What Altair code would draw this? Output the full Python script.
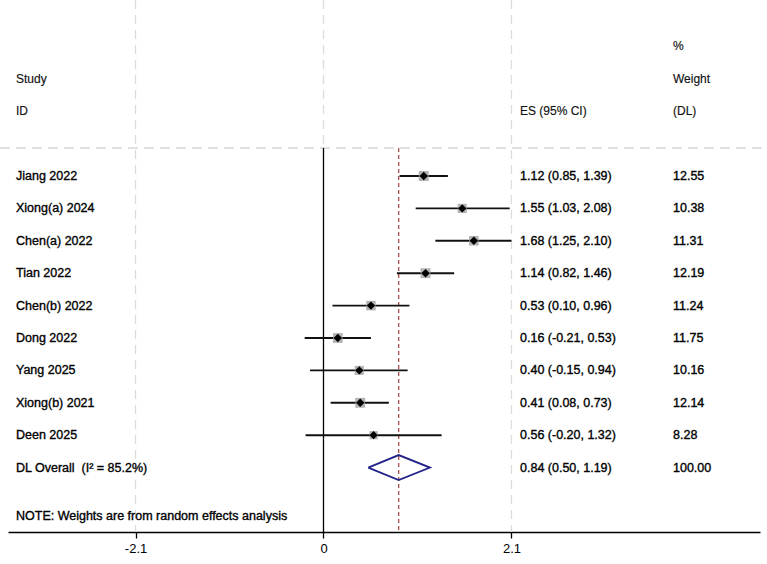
import altair as alt
import pandas as pd

# Study-level effect sizes (95% CI) and random-effects weights
studies = ["Jiang 2022", "Xiong(a) 2024", "Chen(a) 2022", "Tian 2022", "Chen(b) 2022",
           "Dong 2022", "Yang 2025", "Xiong(b) 2021", "Deen 2025"]
es = [1.12, 1.55, 1.68, 1.14, 0.53, 0.16, 0.40, 0.41, 0.56]
lo = [0.85, 1.03, 1.25, 0.82, 0.10, -0.21, -0.15, 0.08, -0.20]
hi = [1.39, 2.08, 2.10, 1.46, 0.96, 0.53, 0.94, 0.73, 1.32]
weight = [12.55, 10.38, 11.31, 12.19, 11.24, 11.75, 10.16, 12.14, 8.28]

# Pooled DerSimonian-Laird estimate
overall_label = "DL Overall\u00a0\u00a0(I\u00b2 = 85.2%)"
overall_es, overall_lo, overall_hi, overall_w = 0.84, 0.50, 1.19, 100.00

ticks = [-2.1, 0, 2.1]
note = "NOTE: Weights are from random effects analysis"

FONT = "Liberation Sans"
FS = 12.5
INK = "#000000"
W, H = 752, 532
x_dom = [-3.525, 4.877]
y_dom = [-5.432, 10.988]

rows = pd.DataFrame({
    "study": studies, "es": es, "lo": lo, "hi": hi, "weight": weight,
    "row": list(range(len(studies))),
})
rows["es_txt"] = [f"{e:.2f} ({l:.2f}, {h:.2f})" for e, l, h in zip(es, lo, hi)]
rows["w_txt"] = [f"{w:.2f}" for w in weight]

ov_row = len(studies)
labels = pd.DataFrame({
    "study": studies + [overall_label],
    "es_txt": list(rows["es_txt"]) + [f"{overall_es:.2f} ({overall_lo:.2f}, {overall_hi:.2f})"],
    "w_txt": list(rows["w_txt"]) + [f"{overall_w:.2f}"],
    "row": list(range(len(studies) + 1)),
})

header = pd.DataFrame({
    "text": ["Study", "ID", "ES (95% CI)", "%", "Weight", "(DL)"],
    "row": [-3, -2, -2, -4, -3, -2],
    "col": ["a", "a", "b", "c", "c", "c"],
})

half = 0.386
diamond = pd.DataFrame({
    "x": [overall_lo, overall_es, overall_hi, overall_es, overall_lo],
    "row": [ov_row, ov_row - half, ov_row, ov_row + half, ov_row],
    "o": [0, 1, 2, 3, 4],
})

xs = alt.Scale(domain=x_dom, nice=False, zero=False)
ys = alt.Scale(domain=y_dom, reverse=True, nice=False, zero=False)

base = alt.Chart(rows)

# reference lines
grey_full = alt.Chart(pd.DataFrame({"v": [ticks[0], ticks[2]]})).mark_rule(
    color="#dcdcdc", strokeWidth=1.3, strokeDash=[9, 6]
).encode(x=alt.X("v:Q", scale=xs), y=alt.value(0), y2=alt.value(H))

grey_top = alt.Chart(pd.DataFrame({"v": [0]})).mark_rule(
    color="#dcdcdc", strokeWidth=1.3, strokeDash=[9, 6]
).encode(x=alt.X("v:Q", scale=xs), y=alt.value(0), y2=alt.value(148))

hline = alt.Chart(pd.DataFrame({"v": [0]})).mark_rule(
    color="#d6d6d6", strokeWidth=1.6, strokeDash=[10, 6]
).encode(x=alt.value(-8), x2=alt.value(W + 7), y=alt.value(148))

null_line = alt.Chart(pd.DataFrame({"v": [0]})).mark_rule(
    color="#000000", strokeWidth=1.3
).encode(x=alt.X("v:Q", scale=xs), y=alt.value(148), y2=alt.value(H))

pooled_line = alt.Chart(pd.DataFrame({"v": [overall_es]})).mark_rule(
    color="#a8504f", strokeWidth=1.3, strokeDash=[4, 3]
).encode(x=alt.X("v:Q", scale=xs), y=alt.value(148), y2=alt.value(H))

ci = base.mark_rule(color="#111111", strokeWidth=1.9).encode(
    x=alt.X("lo:Q", scale=xs,
            axis=alt.Axis(values=ticks, title=None, grid=False,
                          labelExpr="datum.value == 0 ? '0' : (datum.value < 0 ? '-' + format(-datum.value, '.1f') : format(datum.value, '.1f'))")),
    x2="hi:Q",
    y=alt.Y("row:Q", scale=ys, axis=None),
)

boxes = base.mark_square(color="#a0a0a0", opacity=0.8).encode(
    x=alt.X("es:Q", scale=xs),
    y=alt.Y("row:Q", scale=ys),
    size=alt.Size("weight:Q", scale=alt.Scale(domain=[0, 13], range=[0, 105]), legend=None),
)

points = base.mark_point(shape="diamond", filled=True, color="#000000", size=70, opacity=1).encode(
    x=alt.X("es:Q", scale=xs),
    y=alt.Y("row:Q", scale=ys),
)

pooled = alt.Chart(diamond).mark_line(color="#22228a", strokeWidth=1.8).encode(
    x=alt.X("x:Q", scale=xs),
    y=alt.Y("row:Q", scale=ys),
    order="o:Q",
)

# body text drawn slightly heavier than the header text
txt = dict(font=FONT, fontSize=FS, color=INK, stroke=INK, strokeWidth=0.35,
           align="left", baseline="middle")
hdr = dict(font=FONT, fontSize=12, color="#111111", stroke="#111111", strokeWidth=0.15,
           align="left", baseline="middle")

study_txt = alt.Chart(labels).mark_text(**txt).encode(
    x=alt.value(8), y=alt.Y("row:Q", scale=ys), text="study:N")
es_txt = alt.Chart(labels).mark_text(**txt).encode(
    x=alt.value(512), y=alt.Y("row:Q", scale=ys), text="es_txt:N")
w_txt = alt.Chart(labels).mark_text(**txt).encode(
    x=alt.value(665), y=alt.Y("row:Q", scale=ys), text="w_txt:N")

hdr_a = alt.Chart(header[header.col == "a"]).mark_text(**hdr).encode(
    x=alt.value(8), y=alt.Y("row:Q", scale=ys), text="text:N")
hdr_b = alt.Chart(header[header.col == "b"]).mark_text(**hdr).encode(
    x=alt.value(512), y=alt.Y("row:Q", scale=ys), text="text:N")
hdr_c = alt.Chart(header[header.col == "c"]).mark_text(**hdr).encode(
    x=alt.value(665), y=alt.Y("row:Q", scale=ys), text="text:N")

note_txt = alt.Chart(pd.DataFrame({"t": [note], "row": [ov_row + 1.5]})).mark_text(**txt).encode(
    x=alt.value(8), y=alt.Y("row:Q", scale=ys), text="t:N")

chart = alt.layer(
    grey_full, grey_top, hline, null_line, pooled_line,
    ci, boxes, points, pooled,
    study_txt, es_txt, w_txt, hdr_a, hdr_b, hdr_c, note_txt,
).properties(
    width=W, height=H,
    padding={"left": 8, "top": 0, "right": 7, "bottom": 32},
    autosize=alt.AutoSizeParams(type="none"),
    background="white",
).configure_view(
    stroke=None
).configure_axis(
    labelFont=FONT, labelFontSize=13, labelColor=INK,
    tickSize=6, tickColor="#000000", tickWidth=1.3,
    domainColor="#000000", domainWidth=1.3, labelPadding=4,
)

chart.save("out.html", embed_options={"renderer": "svg", "actions": False})
